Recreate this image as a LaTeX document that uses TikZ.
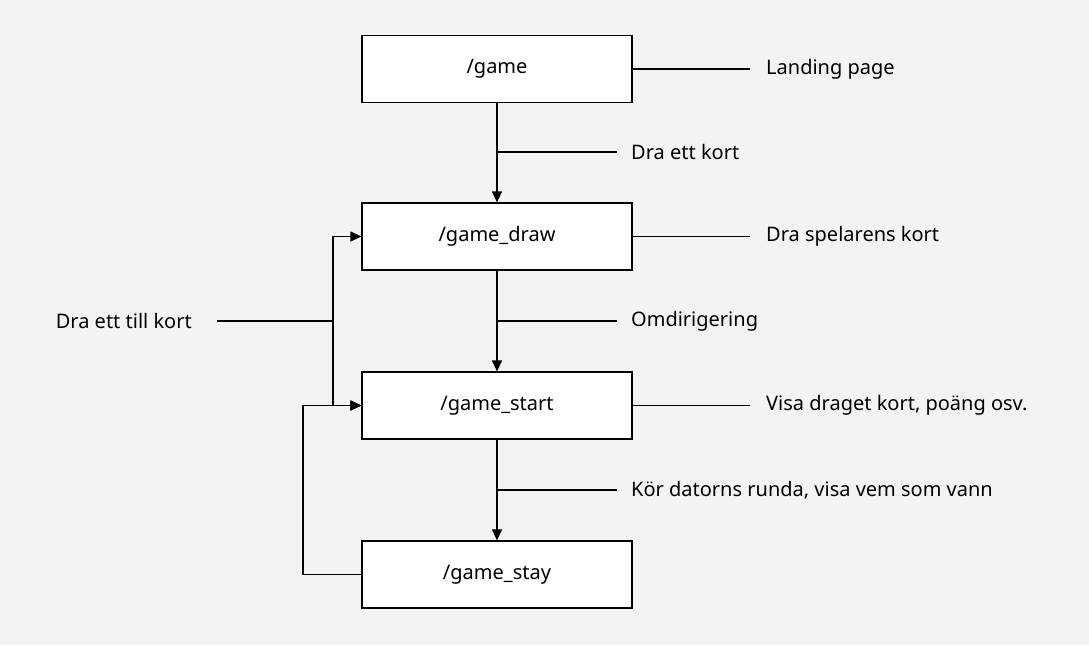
\documentclass[tikz,border=0pt]{standalone}
\usepackage{fontspec}
\setmainfont{Noto Sans}
\usetikzlibrary{arrows.meta}
\definecolor{bggray}{HTML}{F3F3F3}
\tikzset{
  page/.style={box/.style={draw=black,fill=white,line width=1.2pt,minimum width=270pt,minimum height=67pt,font=\fontsize{20}{24}\selectfont}},
  note/.style={anchor=west,inner xsep=14pt,inner ysep=0pt,font=\fontsize{20}{24}\selectfont},
  link/.style={line width=1.2pt},
  flow/.style={line width=1.2pt,-{Triangle[length=11pt,width=10pt]}}
}
\begin{document}
\begin{tikzpicture}[x=1pt,y=-1pt,page]
  \fill[bggray] (0,0) rectangle (1089,645);
  \useasboundingbox (0,0) rectangle (1089,645);

  % Pages
  \node[box] (game) at (497, 69) {/game};
  \node[box] (draw) at (497, 236.5) {/game\_draw};
  \node[box] (start) at (497, 405.5) {/game\_start};
  \node[box] (stay) at (497, 574.5) {/game\_stay};

  % Descriptions to the right
  \node[note,inner xsep=16pt] (n_game) at (750, 69) {Landing page};
  \node[note,inner xsep=16pt] (n_draw) at (750, 236.5) {Dra spelarens kort};
  \node[note,inner xsep=16pt] (n_start) at (750, 405.5) {Visa draget kort, poäng osv.};
  \draw[link] (game.east) -- (n_game.west);
  \draw[link] (draw.east) -- (n_draw.west);
  \draw[link] (start.east) -- (n_start.west);

  % Downward flow
  \draw[flow] (game) -- (draw);
  \draw[flow] (draw) -- (start);
  \draw[flow] (start) -- (stay);

  \node[note] (a1) at (617, 152) {Dra ett kort};
  \node[note] (a2) at (617, 321) {Omdirigering};
  \node[note] (a3) at (617, 490) {Kör datorns runda, visa vem som vann};
  \draw[link] (497, 152) -- (a1.west);
  \draw[link] (497, 321) -- (a2.west);
  \draw[link] (497, 490) -- (a3.west);

  % Back edges
  \coordinate (split) at (333, 321);
  \node[note,anchor=east,inner xsep=25pt] (again) at (217, 321) {Dra ett till kort};
  \draw[link] (again.east) -- (split);
  \draw[flow] (split) |- (draw.west);
  \draw[flow] (split) |- (start.west);

  \coordinate (loop) at (303, 574.5);
  \draw[flow] (stay.west) -- (loop) |- (start.west);
\end{tikzpicture}
\end{document}
